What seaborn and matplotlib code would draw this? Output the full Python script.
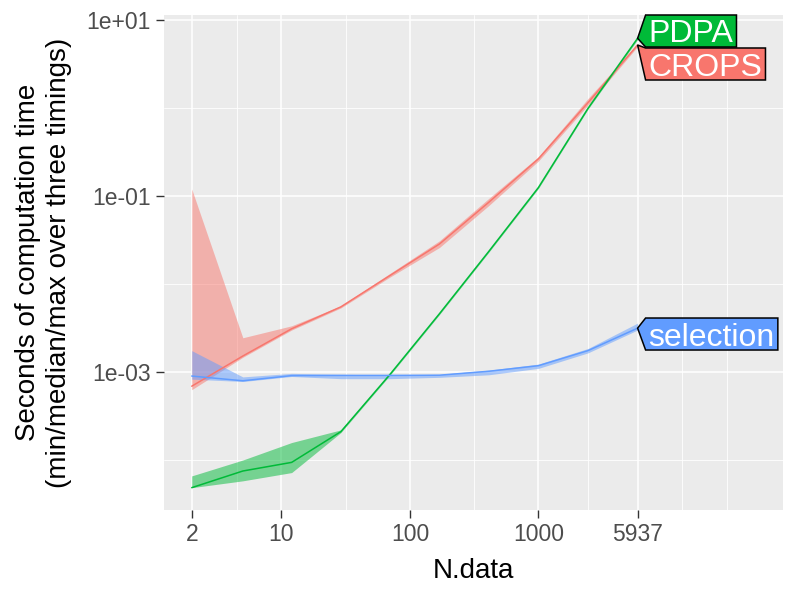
import numpy as np
import pandas as pd
import matplotlib
matplotlib.use("Agg")
import matplotlib.pyplot as plt
import seaborn as sns
from matplotlib.patches import Polygon
from matplotlib.ticker import FixedLocator, FixedFormatter, NullFormatter
from matplotlib.transforms import IdentityTransform

# ---------------- data ----------------
n_data = [2, 5, 12, 29, 70, 170, 412, 1003, 2438, 5937]

crops_median = [6.9e-4, 1.52e-3, 3.1e-3, 5.5e-3, 1.25e-2, 2.85e-2, 8.5e-2, 2.65e-1, 1.15, 5.2]
crops_min    = [6.3e-4, 1.47e-3, 3.0e-3, 5.35e-3, 1.2e-2, 2.6e-2, 7.8e-2, 2.5e-1, 1.08, 5.0]
crops_max    = [1.2e-1, 2.45e-3, 3.35e-3, 5.65e-3, 1.32e-2, 3.1e-2, 9.4e-2, 2.8e-1, 1.28, 5.4]

pdpa_median = [4.85e-5, 7.5e-5, 9.4e-5, 2.1e-4, 9.4e-4, 4.6e-3, 2.35e-2, 1.25e-1, 0.99, 6.2]
pdpa_min    = [4.85e-5, 5.8e-5, 7.2e-5, 2.05e-4, 9.2e-4, 4.5e-3, 2.3e-2, 1.22e-1, 0.97, 6.0]
pdpa_max    = [6.6e-5, 1.0e-4, 1.58e-4, 2.2e-4, 9.6e-4, 4.7e-3, 2.4e-2, 1.28e-1, 1.02, 6.4]

sel_median = [9.0e-4, 7.95e-4, 9.1e-4, 9.15e-4, 9.15e-4, 9.2e-4, 1.02e-3, 1.18e-3, 1.75e-3, 3.15e-3]
sel_min    = [8.3e-4, 7.8e-4, 8.9e-4, 8.4e-4, 8.4e-4, 8.7e-4, 9.3e-4, 1.1e-3, 1.65e-3, 3.0e-3]
sel_max    = [1.75e-3, 8.8e-4, 9.65e-4, 9.4e-4, 9.3e-4, 9.4e-4, 1.05e-3, 1.23e-3, 1.85e-3, 3.6e-3]

algorithms = ["CROPS", "PDPA", "selection"]
colors = {"CROPS": "#F8766D", "PDPA": "#00BA38", "selection": "#619CFF"}

x_breaks = [2, 10, 100, 1000, 5937]
x_labels = ["2", "10", "100", "1000", "5937"]
y_breaks = [1e-3, 1e-1, 1e1]
y_labels = ["1e-03", "1e-01", "1e+01"]

xlabel = "N.data"
ylabel = "Seconds of computation time\n(min/median/max over three timings)"

# ---------------- table ----------------
rows = []
series = {
    "CROPS": (crops_min, crops_median, crops_max),
    "PDPA": (pdpa_min, pdpa_median, pdpa_max),
    "selection": (sel_min, sel_median, sel_max),
}
for alg in algorithms:
    mn, md, mx = series[alg]
    for n, a, b, c in zip(n_data, mn, md, mx):
        rows.append(dict(algorithm=alg, N=n, min=a, median=b, max=c))
df = pd.DataFrame(rows)

# ---------------- style ----------------
sns.set_theme(style="darkgrid")
plt.rcParams["font.family"] = ["Liberation Sans", "DejaVu Sans"]

W, H = 800, 600
fig = plt.figure(figsize=(8, 6), dpi=100)
fig.patch.set_facecolor("white")
px_l, px_r, px_t, px_b = 164, 783, 15, 510
ax = fig.add_axes([px_l / W, 1 - px_b / H, (px_r - px_l) / W, (px_b - px_t) / H])
ax.set_facecolor("#EBEBEB")

for alg in algorithms:
    d = df[df.algorithm == alg]
    ax.fill_between(d["N"], d["min"], d["max"], color=colors[alg], alpha=0.5,
                    linewidth=0, zorder=2)
sns.lineplot(data=df, x="N", y="median", hue="algorithm", palette=colors,
             hue_order=algorithms, linewidth=1.1, ax=ax, legend=False,
             estimator=None, sort=True, zorder=3)

ax.set_xscale("log")
ax.set_yscale("log")
ax.set_xlim(10 ** 0.085, 10 ** 4.906)
ax.set_ylim(10 ** -4.568, 10 ** 1.057)

# ggplot-like minor breaks (midpoints in transformed space, extended)
def minor_breaks(breaks, lim):
    b = list(np.log10(breaks))
    bd = b[1] - b[0]
    lo, hi = np.log10(lim)
    if lo < b[0]:
        b = [b[0] - bd] + b
    if hi > b[-1]:
        b = b + [b[-1] + bd]
    mids = []
    for i in range(len(b) - 1):
        mids += [b[i], (b[i] + b[i + 1]) / 2]
    mids.append(b[-1])
    maj = set(np.round(np.log10(breaks), 6))
    return [10 ** m for m in mids if lo <= m <= hi and round(m, 6) not in maj]

ax.xaxis.set_major_locator(FixedLocator(x_breaks))
ax.xaxis.set_major_formatter(FixedFormatter(x_labels))
ax.xaxis.set_minor_locator(FixedLocator(minor_breaks(x_breaks, ax.get_xlim())))
ax.xaxis.set_minor_formatter(NullFormatter())
ax.yaxis.set_major_locator(FixedLocator(y_breaks))
ax.yaxis.set_major_formatter(FixedFormatter(y_labels))
ax.yaxis.set_minor_locator(FixedLocator(minor_breaks(y_breaks, ax.get_ylim())))
ax.yaxis.set_minor_formatter(NullFormatter())

ax.grid(which="major", color="white", linewidth=1.15)
ax.grid(which="minor", color="white", linewidth=0.6)
ax.set_axisbelow(True)
for s in ax.spines.values():
    s.set_visible(False)
ax.tick_params(which="major", length=5.5, width=1.0, color="#333333",
               labelcolor="#4D4D4D", labelsize=16.5, pad=4, bottom=True, left=True)
ax.tick_params(which="minor", length=0)

ax.set_xlabel(xlabel, fontsize=20, color="black")
ax.xaxis.label.set_verticalalignment("baseline")
ax.xaxis.set_label_coords(0.5, (22 - 90) / 495)
ax.set_ylabel(ylabel, fontsize=20, color="black", linespacing=1.25,
              multialignment="center")
ax.yaxis.label.set_verticalalignment("center")
ax.yaxis.set_label_coords((44 - px_l) / (px_r - px_l), 0.5)

# ---------------- direct labels ----------------
fig.canvas.draw()
renderer = fig.canvas.get_renderer()
box_h = 32.0
gap = 1.0
fs_lab = 23
ax_top_disp = ax.transAxes.transform((0, 1))[1]

labels = []
for alg in algorithms:
    d = df[df.algorithm == alg].sort_values("N")
    tip = ax.transData.transform((d["N"].iloc[-1], d["median"].iloc[-1]))
    labels.append(dict(alg=alg, tx=tip[0], ty=tip[1], cy=tip[1]))

# resolve overlaps (sorted top to bottom)
labels.sort(key=lambda l: -l["cy"])
for _ in range(50):
    moved = False
    for i in range(len(labels) - 1):
        a, b = labels[i], labels[i + 1]
        need = box_h + gap
        if a["cy"] - b["cy"] < need:
            mid = (a["cy"] + b["cy"]) / 2
            a["cy"] = mid + need / 2
            b["cy"] = mid - need / 2
            moved = True
    over = labels[0]["cy"] + box_h / 2 - ax_top_disp
    if over > 0:
        for l in labels:
            l["cy"] -= over
        moved = True
    if not moved:
        break

for l in labels:
    bx = l["tx"] + 8
    cy = l["cy"]
    t = fig.text(0, 0, l["alg"], fontsize=fs_lab, color="white",
                 transform=IdentityTransform(), ha="left", va="baseline", zorder=6)
    t.set_position((bx + 2.5, cy - 11.5))
    wext = t.get_window_extent(renderer).width
    w = wext + 6
    top, bot = cy + box_h / 2, cy - box_h / 2
    poly = Polygon([(l["tx"], l["ty"]), (bx, top), (bx + w, top), (bx + w, bot), (bx, bot)],
                   closed=True, facecolor=colors[l["alg"]], edgecolor="black",
                   linewidth=1.1, transform=IdentityTransform(), zorder=5)
    fig.patches.append(poly)

fig.savefig("out.png", dpi=100)
